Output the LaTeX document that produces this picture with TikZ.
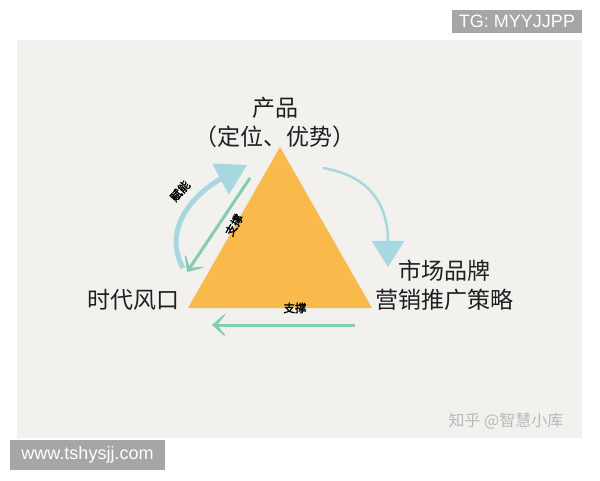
\documentclass[tikz,border=0pt]{standalone}
\usepackage{fontspec}
\setmainfont{Liberation Sans}
\newfontfamily\cjk{Noto Sans CJK SC}
\newfontfamily\cjkheavy[FakeBold=2]{Noto Sans CJK SC}
\usetikzlibrary{arrows.meta}

\definecolor{panelgray}{HTML}{F2F1EE}
\definecolor{triorange}{HTML}{F9B94B}
\definecolor{arcblue}{HTML}{A7D8E0}
\definecolor{mintgreen}{HTML}{86CBB4}
\definecolor{markgray}{HTML}{A6A6A6}

\tikzset{
  bigtext/.style={font=\cjk\fontsize{23}{29}\selectfont, text=black!88, align=center},
  smalltag/.style={font=\cjkheavy\fontsize{11.5}{12}\selectfont, text=black, inner sep=1pt},
  bluearc/.style={draw=arcblue, -{Triangle[length=30pt,width=34pt]}},
  greenline/.style={draw=mintgreen, line width=3pt, -{Stealth[length=18pt,width=32pt,inset=13pt]}},
  webmark/.style={fill=markgray, text=white, font=\fontsize{18}{18}\selectfont, inner sep=0pt}
}

\begin{document}
\begin{tikzpicture}[x=1pt,y=1pt]
               \useasboundingbox[fill=white] (0,0) rectangle (600,480);
               \fill[panelgray] (17,42) rectangle (582,440);
               % triangle
               \coordinate (top) at (280,333);
               \coordinate (lft) at (188,172);
               \coordinate (rgt) at (372,172);
               \fill[triorange] (top) -- (lft) -- (rgt) -- cycle;
               % curved arrows
               \coordinate (enableStart) at (183,212);
               \coordinate (enableTip) at (247,315);
               \draw[bluearc, line width=5pt] (enableStart) .. controls (160,255) and (200,290) .. (enableTip);
               \coordinate (pushStart) at (323,312);
               \coordinate (pushTip) at (388,213);
               \draw[bluearc, line width=2.5pt, -{Triangle[length=26pt,width=32pt]}] (pushStart) .. controls (365,305) and (388,280) .. (pushTip);
               % straight arrows
               \coordinate (propStart) at (250,302);
               \coordinate (propTip) at (187,208);
               \draw[greenline] (propStart) -- (propTip);
               \coordinate (baseStart) at (355,155);
               \coordinate (baseTip) at (212,155);
               \draw[greenline] (baseStart) -- (baseTip);
               % labels
               \node[bigtext] (product) at (275,358) {产品\\（定位、优势）};
               \node[bigtext] (era) at (133,180) {时代风口};
               \node[bigtext] (market) at (444,195) {市场品牌\\营销推广策略};
               \node[smalltag, rotate=48] (enable) at (180,289) {赋能};
               \node[smalltag, rotate=60] (propTag) at (234,255) {支撑};
               \node[smalltag] (baseTag) at (295,172) {支撑};
               % watermarks
               \node[font=\cjk\fontsize{16}{16}\selectfont, text=black!28] (zhihu) at (506,59) {知乎 @智慧小库};
               \node[webmark, minimum width=130pt, minimum height=23pt] (tg) at (517,458.5) {TG: MYYJJPP};
               \node[webmark, minimum width=155pt, minimum height=30pt] (site) at (87.5,25) {www.tshysjj.com};
            \end{tikzpicture}
\end{document}
